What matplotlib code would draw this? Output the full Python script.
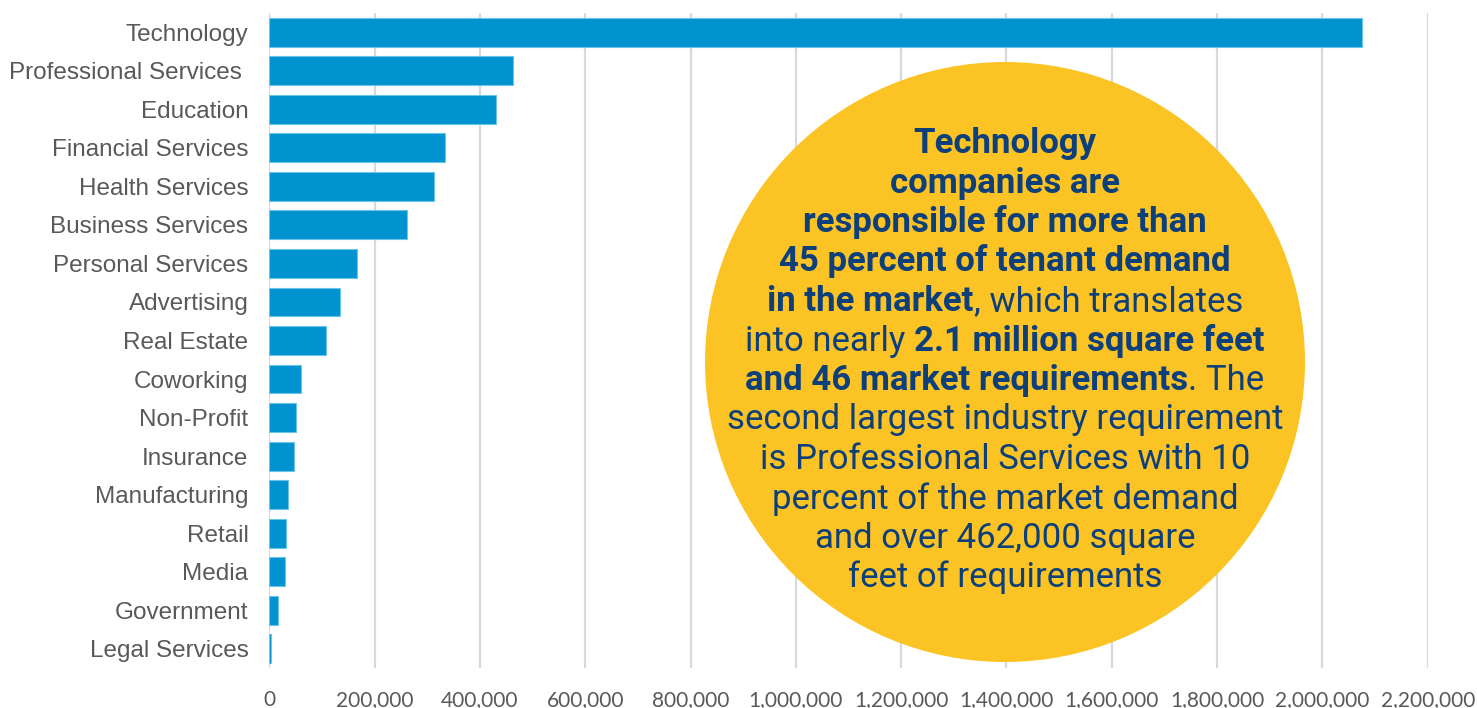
import matplotlib
matplotlib.use('Agg')
import matplotlib.pyplot as plt
from matplotlib.patches import Circle
from matplotlib.transforms import IdentityTransform
from matplotlib.ticker import FuncFormatter

# Datos
industrias = ['Technology', 'Professional Services ', 'Education', 'Financial Services',
              'Health Services', 'Business Services', 'Personal Services', 'Advertising',
              'Real Estate', 'Coworking', 'Non-Profit', 'Insurance', 'Manufacturing',
              'Retail', 'Media', 'Government', 'Legal Services']
pies_cuadrados = [2075000, 462000, 430000, 334000, 313000, 262000, 167000, 135000,
                  108000, 61000, 50000, 46000, 35000, 32000, 30000, 17000, 3000]
ticks_x = [0, 200000, 400000, 600000, 800000, 1000000, 1200000, 1400000,
           1600000, 1800000, 2000000, 2200000]

# Texto del círculo: (texto, negrita)
lineas_circulo = [
    [('Technology', True)],
    [('companies are', True)],
    [('responsible for more than', True)],
    [('45 percent of tenant demand', True)],
    [('in the market', True), (', which translates', False)],
    [('into nearly ', False), ('2.1 million square feet', True)],
    [('and 46 market requirements', True), ('. The', False)],
    [('second largest industry requirement', False)],
    [('is Professional Services with 10', False)],
    [('percent of the market demand', False)],
    [('and over 462,000 square', False)],
    [('feet of requirements', False)],
]

W, H = 1477, 708
fig = plt.figure(figsize=(W / 100, H / 100), dpi=100)
ax = fig.add_axes([269.3 / W, 1 - 668 / H, (1427.7 - 269.3) / W, (668 - 13) / H])

pos = list(range(len(industrias)))[::-1]
ax.barh(pos, pies_cuadrados, height=0.75, color='#0093D0', edgecolor='#6CC4EA',
        linewidth=0.8, zorder=3)
ax.set_ylim(-0.5, len(industrias) - 0.5)
ax.set_xlim(0, 2200000)
ax.set_xticks(ticks_x)
ax.xaxis.set_major_formatter(FuncFormatter(lambda v, p: f'{int(v):,}'))
ax.set_yticks(pos)
ax.set_yticklabels(industrias, family='Liberation Sans', fontsize=17.5, color='#595959')
for lbl in ax.get_xticklabels():
    lbl.set_family('Lato')
    lbl.set_fontsize(15)
    lbl.set_color('#595959')
ax.tick_params(axis='both', length=0)
ax.tick_params(axis='y', pad=15)
ax.tick_params(axis='x', pad=16)
ax.grid(axis='x', color='#D9D9D9', linewidth=1.6, zorder=0)
for s in ax.spines.values():
    s.set_visible(False)

# Círculo amarillo
cx, cy, r = 1005, H - 362, 300
fig.add_artist(Circle((cx, cy), r, transform=IdentityTransform(),
                      facecolor='#FCC324', edgecolor='none', zorder=5))

renderer = fig.canvas.get_renderer()
color_txt = '#0D3F7B'
fs = 25
y0 = 153
paso = 39.5
for i, linea in enumerate(lineas_circulo):
    textos = []
    for seg, negrita in linea:
        t = fig.text(0, 0, seg, fontsize=fs, family='Roboto',
                     fontweight='bold' if negrita else 'normal', color=color_txt,
                     transform=IdentityTransform(), ha='left', va='baseline', zorder=6)
        textos.append(t)
    anchos = [t.get_window_extent(renderer).width for t in textos]
    x = cx - sum(anchos) / 2
    yb = H - (y0 + i * paso)
    for t, a in zip(textos, anchos):
        t.set_position((x, yb))
        x += a

fig.savefig('out.png', dpi=100)
